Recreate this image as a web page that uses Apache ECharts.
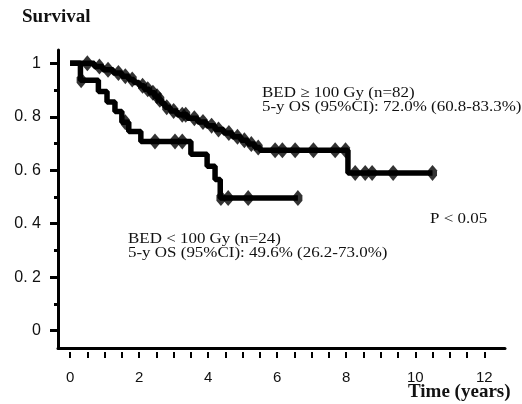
<!DOCTYPE html>
<html>
<head>
<meta charset="utf-8">
<script src="https://cdn.jsdelivr.net/npm/echarts@6/dist/echarts.min.js"></script>
<style>
  html, body { margin: 0; padding: 0; background: #fff; }
  #chart { width: 522px; height: 404px; }
</style>
</head>
<body>
<div id="chart"></div>
<script>
// Kaplan-Meier steps (time in years, survival)
var highT = [0, 0.7, 0.95, 1.25, 1.5, 1.7, 1.85, 2.0, 2.15, 2.3, 2.45, 2.55, 2.65, 2.75, 2.9, 3.1, 3.4, 3.7, 3.95, 4.2, 4.45, 4.7, 4.95, 5.15, 5.35, 5.5, 8.05, 10.5];
var highS = [1, 0.988, 0.976, 0.964, 0.952, 0.940, 0.928, 0.916, 0.903, 0.890, 0.877, 0.864, 0.850, 0.836, 0.822, 0.808, 0.795, 0.781, 0.767, 0.753, 0.739, 0.725, 0.712, 0.698, 0.685, 0.675, 0.59, 0.59];
var highCensor = [0.5, 0.85, 1.1, 1.4, 1.6, 1.8, 2.1, 2.25, 2.4, 2.52, 2.6, 2.8, 3.0, 3.25, 3.35, 3.6, 3.85, 4.1, 4.3, 4.6, 4.85, 5.05, 5.25, 5.45, 5.94, 6.15, 6.52, 7.05, 7.68, 7.98, 8.26, 8.55, 8.75, 9.36, 10.5];

var lowT = [0, 0.3, 0.82, 1.07, 1.3, 1.5, 1.7, 2.05, 3.5, 3.97, 4.2, 4.35, 6.6];
var lowS = [1, 0.937, 0.895, 0.855, 0.82, 0.78, 0.745, 0.708, 0.66, 0.615, 0.565, 0.496, 0.496];
var lowCensor = [0.32, 1.6, 2.46, 3.04, 3.25, 4.37, 4.58, 5.16, 6.6];

var xTickVals = [0, 0.5, 1, 1.5, 2, 2.5, 3, 3.5, 4, 4.5, 5, 5.5, 6, 6.5, 7, 7.5, 8, 8.5, 9, 9.5, 10, 10.5, 11, 11.5, 12];
var xLabelVals = [0, 2, 4, 6, 8, 10, 12];
var yLabelVals = [0, 0.2, 0.4, 0.6, 0.8, 1];
var yLabels = ['0', '0. 2', '0. 4', '0. 6', '0. 8', '1'];
var yMinorVals = [0.1, 0.3, 0.5, 0.7, 0.9];

function pairs(ts, ss) {
  return ts.map(function (t, i) { return [t, ss[i]]; });
}
// survival value of a step curve at time t (for censor marks)
function survAt(ts, ss, t) {
  var v = ss[0];
  for (var i = 0; i < ts.length; i++) {
    if (ts[i] <= t) v = ss[i];
  }
  return v;
}
function censorPts(ts, ss, cs) {
  return cs.map(function (t) { return [t, survAt(ts, ss, t)]; });
}

var mark = 'path://M4,0 L8,5 L8,10 L4,15 L0,10 L0,5 Z';
var axisFont = { fontFamily: 'Liberation Sans', fontSize: 15, color: '#111' };

var chart = echarts.init(document.getElementById('chart'));
chart.setOption({
  animation: false,
  backgroundColor: '#fff',
  grid: { left: 58, right: 17, top: 50, bottom: 56 },
  xAxis: [
    {
      type: 'value', min: -0.35, max: 12.6,
      splitLine: { show: false },
      axisLine: { onZero: false, lineStyle: { color: '#000', width: 3 } },
      axisTick: { show: false },
      axisLabel: Object.assign({ customValues: xLabelVals, margin: 22 }, axisFont)
    },
    {
      type: 'value', min: -0.35, max: 12.6, position: 'bottom', offset: 4,
      splitLine: { show: false },
      axisLine: { show: false, onZero: false },
      axisTick: { show: true, customValues: xTickVals, length: 6, lineStyle: { color: '#000', width: 2 } },
      axisLabel: { show: false }
    }
  ],
  yAxis: [
    {
      type: 'value', min: -0.065, max: 1.05,
      splitLine: { show: false },
      axisLine: { show: true, onZero: false, lineStyle: { color: '#000', width: 3 } },
      axisTick: { show: true, customValues: yLabelVals, length: 8, lineStyle: { color: '#000', width: 3 } },
      axisLabel: Object.assign({}, axisFont, {
        customValues: yLabelVals, margin: 17, fontSize: 16,
        formatter: function (v) {
          var i = yLabelVals.indexOf(Math.round(v * 10) / 10);
          return i >= 0 ? yLabels[i] : '';
        }
      })
    },
    {
      type: 'value', min: -0.065, max: 1.05, position: 'left',
      splitLine: { show: false },
      axisLine: { show: false, onZero: false },
      axisTick: { show: true, customValues: yMinorVals, length: 4, lineStyle: { color: '#000', width: 3 } },
      axisLabel: { show: false }
    }
  ],
  series: [
    {
      type: 'line', step: 'end', showSymbol: false,
      data: pairs(highT, highS),
      lineStyle: { color: '#000', width: 5.5 }
    },
    {
      type: 'line', step: 'end', showSymbol: false,
      data: pairs(lowT, lowS),
      lineStyle: { color: '#000', width: 5.5 }
    },
    {
      type: 'scatter', symbol: mark, symbolSize: [9, 16],
      data: censorPts(highT, highS, highCensor),
      itemStyle: { color: '#000' }, z: 3
    },
    {
      type: 'scatter', symbol: mark, symbolSize: [9, 16],
      data: censorPts(lowT, lowS, lowCensor),
      itemStyle: { color: '#000' }, z: 3
    }
  ],
  graphic: [
    {
      type: 'text', x: 22, y: 17,
      style: { text: 'Survival', font: 'bold 19px "Liberation Serif"', fill: '#111', textVerticalAlign: 'middle' }
    },
    {
      type: 'text', x: 408, y: 392,
      style: { text: 'Time (years)', font: 'bold 19px "Liberation Serif"', fill: '#111', textVerticalAlign: 'middle' }
    },
    {
      type: 'text', x: 262, y: 86, scaleX: 1.13,
      style: {
        text: 'BED ≥ 100 Gy (n=82)\n5-y OS (95%CI): 72.0% (60.8-83.3%)',
        font: '15px "Liberation Serif"', lineHeight: 14, fill: '#111', textVerticalAlign: 'top'
      }
    },
    {
      type: 'text', x: 128, y: 232, scaleX: 1.13,
      style: {
        text: 'BED < 100 Gy (n=24)\n5-y OS (95%CI): 49.6% (26.2-73.0%)',
        font: '15px "Liberation Serif"', lineHeight: 14, fill: '#111', textVerticalAlign: 'top'
      }
    },
    {
      type: 'text', x: 430, y: 219, scaleX: 1.13,
      style: { text: 'P < 0.05', font: '15px "Liberation Serif"', fill: '#111', textVerticalAlign: 'middle' }
    }
  ]
});
</script>
</body>
</html>
